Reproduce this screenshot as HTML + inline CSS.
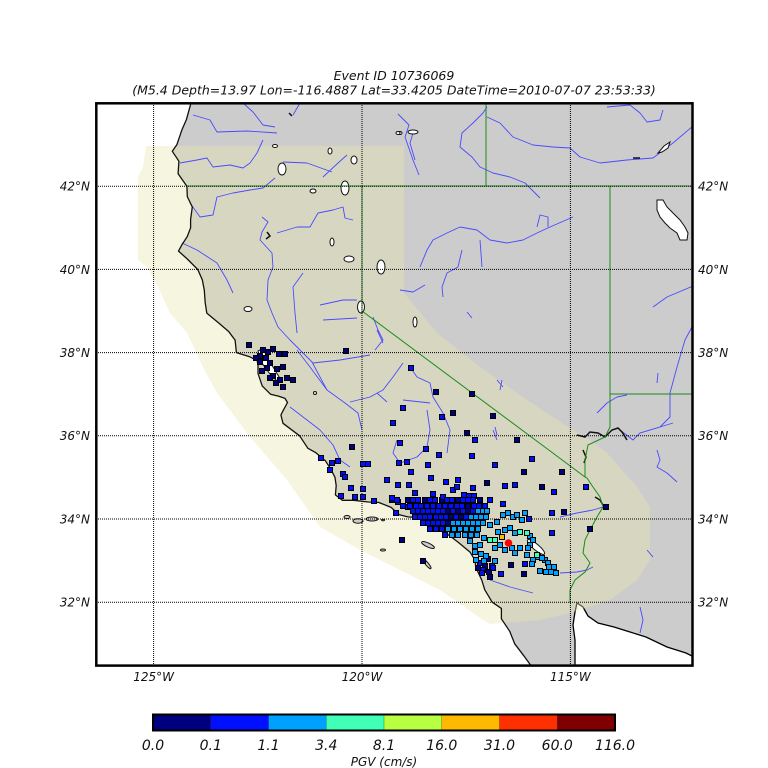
<!DOCTYPE html>
<html><head><meta charset="utf-8"><style>
html,body{margin:0;padding:0;background:#fff;}
svg{display:block;}
text{font-family:"DejaVu Sans","Liberation Sans",sans-serif;font-style:italic;fill:#111;}
</style></head><body>
<svg width="768" height="768" viewBox="0 0 768 768" xmlns="http://www.w3.org/2000/svg">
<defs>
<clipPath id="fr"><rect x="96" y="103" width="597" height="563"/></clipPath>
<rect id="s" x="-2.5" y="-2.5" width="5" height="5" stroke="#000" stroke-width="1"/>
</defs>
<rect width="768" height="768" fill="#fff"/>
<text x="394" y="80" font-size="12.5" text-anchor="middle">Event ID 10736069</text>
<text x="394" y="94.4" font-size="12.5" text-anchor="middle">(M5.4 Depth=13.97 Lon=-116.4887 Lat=33.4205 DateTime=2010-07-07 23:53:33)</text>
<g clip-path="url(#fr)">
<polygon fill="#cccccc" points="191,103 186.4,119.6 182,129.6 176.9,144.6 172.3,151.3 178.9,161.2 178.1,173.7 186.9,186.2 187.3,196.6 192.3,207 190.6,219.5 190.6,227.8 187.3,236.5 181.9,244.8 178.5,251.1 187.3,259 197.7,269.4 202.3,279.8 204.3,290.2 205.2,302.7 206.8,313.1 219.3,323.5 228.9,331.8 235.1,340.1 236.4,352.6 249.7,356.8 257.2,360.5 258,365.1 258,373.4 262.2,385.9 270.5,394.2 278.8,396.3 285,398.4 287.5,402.5 283,410.8 280.9,415 283,423.3 299.6,435.8 307.9,448.3 315.4,452.4 325.4,460.8 330.8,469.1 335,477.4 336.2,485.7 335.4,494.9 342.4,500.3 353.7,500.3 368.2,502 378.6,502.4 391.1,507.4 399.4,514.8 407.8,516.9 420.2,517.8 424.4,519 428.6,525.2 428.6,529.4 433.6,530.6 439,529.4 449.4,535.6 457.7,541.9 470.2,552.3 475.2,560.6 475.6,566.8 478.5,573.1 481.8,580.2 484.7,589.7 492.2,602.2 501.4,608.4 501.4,618.8 509.7,631.3 514.7,643.8 524.2,656.3 530.5,665 530.5,670 700,670 700,100 191,100"/>
<polygon fill="#fff" stroke="#000" stroke-width="1.3" points="575,670 575,640 573,625 575,612 577,603 583,607 588,616 598,623 614,627 630,632 646,637 667,647 686,653 696,658 696,670"/>
<polygon fill="rgb(232,232,178)" fill-opacity="0.4" points="146,146 404,146 404,293 437,333 480,367 527,400 565,425 590,440 607,453 637,487 650,507 650,560 637,580 610,600 570,613 540,620 490,624 480,618 440,590 400,570 360,550 320,527 287,480 250,437 217,393 203,367 187,333 170,313 158,287 147,267 138,260 138,177 143,167"/>
<g fill="none" stroke="#4a4aff" stroke-width="0.9" stroke-linejoin="round">
<polyline points="193,115 210,120 217,132 247,131 277,133"/>
<polyline points="243,103 253,112 263,125 275,127"/>
<polyline points="180,163 197,160 207,158 213,167 230,165 243,168 250,163 257,153 263,140"/>
<polyline points="283,162 307,163 332,172"/>
<polyline points="190,203 200,217 213,215 217,197 233,193 250,190 263,188 275,178"/>
<polyline points="182,243 197,250 217,263 227,280 233,293"/>
<polyline points="262,217 268,222 262,232 260,240 272,253 273,267 268,280 267,300 272,313 278,327 290,340 300,350 312,362 327,390 345,403 358,413 362,430"/>
<polyline points="277,233 297,227 310,227 318,213 333,210 343,207 345,218 353,220"/>
<polyline points="303,273 293,287 295,313 297,333"/>
<polyline points="320,305 343,300 357,300"/>
<polyline points="323,320 357,318"/>
<polyline points="323,177 338,163 347,155"/>
<polyline points="297,350 310,367 327,390"/>
<polyline points="313,363 340,360 370,355"/>
<polyline points="350,402 370,397 383,390 393,377 403,363"/>
<polyline points="377,393 387,402"/>
<polyline points="290,407 307,420 320,430 333,445 340,460 350,467"/>
<polyline points="397,440 393,453 400,463 417,457 427,447 430,430 427,410"/>
<polyline points="410,367 417,377 430,383 433,397 443,413 450,430 447,453"/>
<polyline points="403,400 430,403"/>
<polyline points="497,380 503,387"/>
<polyline points="493,430 497,440"/>
<polyline points="487,107 483,113 473,123 462,133 460,147 472,157 480,167 493,173 510,177 525,183 540,198"/>
<polyline points="487,117 500,123 513,137 533,145 553,147 570,148 580,157 600,163 627,160 653,158 673,143 693,126"/>
<polyline points="607,107 630,105 640,113 647,122 660,120 663,110"/>
<polyline points="413,133 410,143 415,160"/>
<polyline points="398,114 409,125 405,137 413,160 419,175"/>
<polyline points="300,103 293,115"/>
<polyline points="420,267 427,250 433,240 447,233 460,227 477,230 490,240 507,243 523,240 537,233 550,227 573,217"/>
<polyline points="537,227 540,215 548,217 548,227"/>
<polyline points="480,240 482,267"/>
<polyline points="462,250 458,267 447,273 442,287 443,297"/>
<polyline points="400,290 413,292 425,285"/>
<polyline points="467,312 472,318"/>
<polyline points="693,286 667,297 653,307"/>
<polyline points="693,325 685,340 677,367 670,393 670,417 660,427 640,433"/>
<polyline points="658,373 657,383"/>
<polyline points="597,413 607,403 617,397 627,395"/>
<polyline points="502,380 500,390"/>
<polyline points="560,517 577,513 593,510 603,507"/>
<polyline points="620,430 633,440 640,433 660,427 673,423"/>
<polyline points="657,450 660,460 657,467 667,473 677,482"/>
<polyline points="647,550 653,557"/>
<polyline points="640,607 643,620 640,633"/>
<polyline points="560,573 577,572 587,570 593,567"/>
<polyline points="490,580 510,587 533,593"/>
<polyline points="495,427 497,435"/>
<polyline points="373,317 378,330 383,340 375,350"/>
<polyline points="377,330 383,343"/>
</g>
<polyline fill="none" stroke="#111" stroke-width="1.3" stroke-linejoin="round" points="191,103 186.4,119.6 182,129.6 176.9,144.6 172.3,151.3 178.9,161.2 178.1,173.7 186.9,186.2 187.3,196.6 192.3,207 190.6,219.5 190.6,227.8 187.3,236.5 181.9,244.8 178.5,251.1 187.3,259 197.7,269.4 202.3,279.8 204.3,290.2 205.2,302.7 206.8,313.1 219.3,323.5 228.9,331.8 235.1,340.1 236.4,352.6 249.7,356.8 257.2,360.5 258,365.1 258,373.4 262.2,385.9 270.5,394.2 278.8,396.3 285,398.4 287.5,402.5 283,410.8 280.9,415 283,423.3 299.6,435.8 307.9,448.3 315.4,452.4 325.4,460.8 330.8,469.1 335,477.4 336.2,485.7 335.4,494.9 342.4,500.3 353.7,500.3 368.2,502 378.6,502.4 391.1,507.4 399.4,514.8 407.8,516.9 420.2,517.8 424.4,519 428.6,525.2 428.6,529.4 433.6,530.6 439,529.4 449.4,535.6 457.7,541.9 470.2,552.3 475.2,560.6 475.6,566.8 478.5,573.1 481.8,580.2 484.7,589.7 492.2,602.2 501.4,608.4 501.4,618.8 509.7,631.3 514.7,643.8 524.2,656.3 530.5,665"/>
<polygon fill="#fff" stroke="#111" stroke-width="1" points="258,351 264,348 268,352 266,357 270,362 276,372 281,380 278,382 270,374 264,366 260,360"/>
<g fill="#fff" stroke="#111" stroke-width="1">
<ellipse cx="275" cy="146" rx="2.5" ry="1.5"/>
<ellipse cx="330" cy="151" rx="2" ry="3"/>
<ellipse cx="354" cy="160" rx="3" ry="4"/>
<ellipse cx="282" cy="169" rx="4" ry="6"/>
<ellipse cx="345" cy="188" rx="4" ry="7"/>
<ellipse cx="313" cy="191" rx="3" ry="2"/>
<ellipse cx="332" cy="242" rx="2" ry="4"/>
<ellipse cx="349" cy="259" rx="5" ry="3"/>
<ellipse cx="381" cy="267" rx="4" ry="7"/>
<ellipse cx="248" cy="309" rx="4" ry="2.5"/>
<ellipse cx="361" cy="307" rx="3.5" ry="6"/>
<ellipse cx="415" cy="322" rx="2" ry="5"/>
<ellipse cx="315" cy="393" rx="1.5" ry="1.5"/>
<ellipse cx="413" cy="132" rx="5" ry="2"/>
<ellipse cx="400" cy="133" rx="2" ry="1.5"/>
<ellipse cx="398" cy="133" rx="2" ry="1.5"/>
<ellipse cx="536" cy="547" rx="11" ry="3" transform="rotate(40 536 547)"/>
<polygon points="657,200 663,200 667,207 673,213 680,220 685,227 688,233 687,240 680,240 677,233 670,228 665,223 660,217 657,210"/>
<polygon points="658,153 664,146 670,142 668,148 662,152"/>
</g>
<g fill="none" stroke="#111" stroke-width="1.5">
<polyline points="267,232 270,236 266,239"/>
<polyline points="577,435 585,437 590,432 598,433 605,437 612,430 618,428 622,432 627,440"/>
<polyline points="583,450 586,457 584,463"/>
<polyline points="595,497 600,500 603,505 607,508"/>
<polyline points="633,158 640,158"/>
<polyline points="289,113 292,116"/>
</g>
<g fill="#cccccc" stroke="#111" stroke-width="1">
<ellipse cx="347" cy="517" rx="3" ry="1.5"/>
<ellipse cx="358" cy="521" rx="5" ry="2.2"/>
<ellipse cx="372" cy="519" rx="6" ry="2"/>
<ellipse cx="383" cy="520" rx="1.5" ry="0.8"/>
<ellipse cx="428" cy="545" rx="7" ry="2" transform="rotate(25 428 545)"/>
<ellipse cx="427" cy="564" rx="6" ry="1.5" transform="rotate(50 427 564)"/>
<ellipse cx="383" cy="550" rx="2.5" ry="1"/>
</g>
<g fill="none" stroke="#1a8c1a" stroke-width="1">
<polyline points="187,186 700,186"/>
<polyline points="486,100 486,186"/>
<polyline points="362,186 362,311 585,477"/>
<polyline points="610,186 610,427 605,437 588,445 585,460 585,477 587,478 593,487 600,497 603,507 597,517 590,530 585,540 583,553 590,563 585,572 575,580 570,590 570,603"/>
<polyline points="610,394 700,394"/>
</g>
<g stroke="#000" stroke-width="1" stroke-dasharray="1,1" fill="none">
<line x1="153.6" y1="103" x2="153.6" y2="666"/>
<line x1="362" y1="103" x2="362" y2="666"/>
<line x1="570.4" y1="103" x2="570.4" y2="666"/>
<line x1="96" y1="186.2" x2="693" y2="186.2"/>
<line x1="96" y1="269.4" x2="693" y2="269.4"/>
<line x1="96" y1="352.6" x2="693" y2="352.6"/>
<line x1="96" y1="435.8" x2="693" y2="435.8"/>
<line x1="96" y1="519" x2="693" y2="519"/>
<line x1="96" y1="602.2" x2="693" y2="602.2"/>
</g>
<g fill="#00007f">
<use href="#s" x="249" y="345"/><use href="#s" x="263" y="350"/><use href="#s" x="273" y="349"/><use href="#s" x="279" y="354"/><use href="#s" x="285" y="354"/><use href="#s" x="260" y="356"/><use href="#s" x="266" y="358"/><use href="#s" x="270" y="363"/><use href="#s" x="260" y="362"/><use href="#s" x="267" y="368"/><use href="#s" x="277" y="369"/><use href="#s" x="283" y="367"/><use href="#s" x="262" y="371"/><use href="#s" x="273" y="376"/><use href="#s" x="280" y="380"/><use href="#s" x="287" y="378"/><use href="#s" x="293" y="380"/><use href="#s" x="283" y="387"/><use href="#s" x="276" y="383"/><use href="#s" x="270" y="378"/><use href="#s" x="256" y="358"/><use href="#s" x="268" y="352"/>
<use href="#s" x="346" y="351"/><use href="#s" x="472" y="394"/><use href="#s" x="453" y="413"/><use href="#s" x="436" y="392"/><use href="#s" x="493" y="416"/><use href="#s" x="517" y="440"/><use href="#s" x="524" y="472"/><use href="#s" x="467" y="433"/><use href="#s" x="487" y="483"/><use href="#s" x="542" y="487"/><use href="#s" x="562" y="472"/><use href="#s" x="352" y="447"/><use href="#s" x="402" y="540"/><use href="#s" x="423" y="561"/><use href="#s" x="606" y="507"/><use href="#s" x="590" y="529"/><use href="#s" x="564" y="512"/>
<use href="#s" x="392" y="500"/><use href="#s" x="408" y="500"/><use href="#s" x="425" y="500"/><use href="#s" x="442" y="500"/><use href="#s" x="458" y="500"/><use href="#s" x="480" y="500"/><use href="#s" x="468" y="506"/><use href="#s" x="448" y="511"/><use href="#s" x="458" y="511"/><use href="#s" x="468" y="511"/><use href="#s" x="451" y="517"/><use href="#s" x="461" y="517"/><use href="#s" x="448" y="523"/>
<use href="#s" x="488" y="559"/><use href="#s" x="485" y="566"/><use href="#s" x="478" y="568"/><use href="#s" x="489" y="572"/><use href="#s" x="490" y="577"/><use href="#s" x="524" y="574"/><use href="#s" x="511" y="565"/>
</g>
<g fill="#0010ff">
<use href="#s" x="411" y="368"/><use href="#s" x="403" y="408"/><use href="#s" x="442" y="417"/><use href="#s" x="393" y="423"/><use href="#s" x="475" y="440"/><use href="#s" x="400" y="443"/><use href="#s" x="426" y="449"/><use href="#s" x="439" y="455"/><use href="#s" x="472" y="456"/><use href="#s" x="532" y="459"/><use href="#s" x="399" y="463"/><use href="#s" x="407" y="462"/><use href="#s" x="428" y="465"/><use href="#s" x="495" y="465"/><use href="#s" x="321" y="458"/><use href="#s" x="332" y="463"/><use href="#s" x="338" y="461"/><use href="#s" x="330" y="470"/><use href="#s" x="343" y="474"/><use href="#s" x="345" y="477"/><use href="#s" x="363" y="464"/><use href="#s" x="368" y="464"/><use href="#s" x="411" y="472"/><use href="#s" x="431" y="478"/><use href="#s" x="458" y="480"/><use href="#s" x="387" y="480"/><use href="#s" x="398" y="485"/><use href="#s" x="409" y="485"/><use href="#s" x="446" y="482"/><use href="#s" x="505" y="486"/><use href="#s" x="515" y="485"/><use href="#s" x="473" y="488"/><use href="#s" x="351" y="488"/><use href="#s" x="363" y="489"/><use href="#s" x="415" y="493"/><use href="#s" x="433" y="494"/><use href="#s" x="453" y="490"/><use href="#s" x="443" y="497"/><use href="#s" x="464" y="495"/><use href="#s" x="341" y="496"/><use href="#s" x="355" y="497"/><use href="#s" x="363" y="497"/><use href="#s" x="374" y="501"/><use href="#s" x="392" y="498"/><use href="#s" x="398" y="502"/><use href="#s" x="396" y="513"/><use href="#s" x="408" y="507"/><use href="#s" x="469" y="496"/><use href="#s" x="474" y="496"/><use href="#s" x="503" y="504"/><use href="#s" x="554" y="492"/><use href="#s" x="586" y="487"/><use href="#s" x="529" y="519"/><use href="#s" x="552" y="533"/><use href="#s" x="552" y="513"/><use href="#s" x="525" y="564"/><use href="#s" x="501" y="574"/><use href="#s" x="457" y="487"/>
<use href="#s" x="397" y="500"/><use href="#s" x="413" y="500"/><use href="#s" x="418" y="500"/><use href="#s" x="430" y="500"/><use href="#s" x="435" y="500"/><use href="#s" x="447" y="500"/><use href="#s" x="452" y="500"/><use href="#s" x="463" y="500"/><use href="#s" x="468" y="500"/><use href="#s" x="473" y="500"/><use href="#s" x="490" y="500"/>
<use href="#s" x="403" y="506"/><use href="#s" x="410" y="506"/><use href="#s" x="416" y="506"/><use href="#s" x="421" y="506"/><use href="#s" x="427" y="506"/><use href="#s" x="433" y="506"/><use href="#s" x="439" y="506"/><use href="#s" x="445" y="506"/><use href="#s" x="451" y="506"/><use href="#s" x="457" y="506"/><use href="#s" x="462" y="506"/><use href="#s" x="474" y="506"/><use href="#s" x="479" y="506"/><use href="#s" x="485" y="506"/>
<use href="#s" x="413" y="511"/><use href="#s" x="418" y="511"/><use href="#s" x="423" y="511"/><use href="#s" x="428" y="511"/><use href="#s" x="433" y="511"/><use href="#s" x="438" y="511"/><use href="#s" x="443" y="511"/><use href="#s" x="453" y="511"/><use href="#s" x="463" y="511"/><use href="#s" x="473" y="511"/>
<use href="#s" x="415" y="517"/><use href="#s" x="420" y="517"/><use href="#s" x="425" y="517"/><use href="#s" x="430" y="517"/><use href="#s" x="436" y="517"/><use href="#s" x="441" y="517"/><use href="#s" x="446" y="517"/><use href="#s" x="456" y="517"/><use href="#s" x="466" y="517"/>
<use href="#s" x="423" y="523"/><use href="#s" x="428" y="523"/><use href="#s" x="433" y="523"/><use href="#s" x="438" y="523"/><use href="#s" x="443" y="523"/>
<use href="#s" x="430" y="529"/><use href="#s" x="436" y="529"/><use href="#s" x="442" y="529"/><use href="#s" x="445" y="535"/>
<use href="#s" x="480" y="563"/><use href="#s" x="492" y="566"/><use href="#s" x="483" y="570"/><use href="#s" x="482" y="573"/><use href="#s" x="493" y="568"/>
</g>
<g fill="#00a0ff">
<use href="#s" x="478" y="511"/><use href="#s" x="483" y="511"/><use href="#s" x="487" y="511"/><use href="#s" x="471" y="517"/><use href="#s" x="476" y="517"/><use href="#s" x="481" y="517"/><use href="#s" x="486" y="517"/>
<use href="#s" x="453" y="523"/><use href="#s" x="458" y="523"/><use href="#s" x="463" y="523"/><use href="#s" x="468" y="523"/><use href="#s" x="473" y="523"/><use href="#s" x="478" y="523"/><use href="#s" x="483" y="523"/>
<use href="#s" x="448" y="529"/><use href="#s" x="454" y="529"/><use href="#s" x="460" y="529"/><use href="#s" x="466" y="529"/><use href="#s" x="472" y="529"/><use href="#s" x="478" y="529"/>
<use href="#s" x="452" y="535"/><use href="#s" x="458" y="535"/><use href="#s" x="465" y="535"/><use href="#s" x="471" y="535"/><use href="#s" x="477" y="535"/>
<use href="#s" x="490" y="525"/><use href="#s" x="497" y="522"/><use href="#s" x="503" y="515"/><use href="#s" x="508" y="513"/><use href="#s" x="513" y="517"/><use href="#s" x="517" y="515"/><use href="#s" x="522" y="520"/><use href="#s" x="525" y="513"/><use href="#s" x="498" y="532"/><use href="#s" x="505" y="530"/><use href="#s" x="510" y="528"/><use href="#s" x="515" y="533"/><use href="#s" x="530" y="536"/><use href="#s" x="533" y="540"/>
<use href="#s" x="512" y="548"/><use href="#s" x="515" y="553"/><use href="#s" x="520" y="548"/><use href="#s" x="527" y="555"/><use href="#s" x="533" y="560"/><use href="#s" x="538" y="557"/><use href="#s" x="545" y="560"/><use href="#s" x="548" y="563"/><use href="#s" x="530" y="545"/><use href="#s" x="540" y="571"/><use href="#s" x="546" y="572"/><use href="#s" x="551" y="572"/><use href="#s" x="554" y="567"/><use href="#s" x="556" y="573"/><use href="#s" x="549" y="567"/><use href="#s" x="542" y="558"/><use href="#s" x="528" y="548"/><use href="#s" x="532" y="564"/><use href="#s" x="500" y="545"/><use href="#s" x="505" y="550"/><use href="#s" x="495" y="548"/><use href="#s" x="480" y="545"/><use href="#s" x="484" y="538"/><use href="#s" x="470" y="541"/><use href="#s" x="475" y="546"/>
<use href="#s" x="475" y="552"/><use href="#s" x="481" y="554"/><use href="#s" x="486" y="556"/><use href="#s" x="476" y="560"/><use href="#s" x="484" y="561"/><use href="#s" x="495" y="561"/>
</g>
<g fill="#40ffb7">
<use href="#s" x="490" y="540"/><use href="#s" x="495" y="540"/><use href="#s" x="520" y="532"/><use href="#s" x="527" y="533"/><use href="#s" x="537" y="555"/>
</g>
<g fill="#ffb900"><use href="#s" x="502" y="537"/></g>
<circle cx="508.5" cy="543" r="3.8" fill="#ff0000"/>
</g>
<rect x="96.3" y="103.3" width="596.2" height="562.3" fill="none" stroke="#000" stroke-width="2.5"/>
<g font-size="12">
<text x="90" y="190.6" text-anchor="end">42°N</text>
<text x="90" y="273.8" text-anchor="end">40°N</text>
<text x="90" y="357" text-anchor="end">38°N</text>
<text x="90" y="440.2" text-anchor="end">36°N</text>
<text x="90" y="523.4" text-anchor="end">34°N</text>
<text x="90" y="606.6" text-anchor="end">32°N</text>
<text x="698" y="190.6">42°N</text>
<text x="698" y="273.8">40°N</text>
<text x="698" y="357">38°N</text>
<text x="698" y="440.2">36°N</text>
<text x="698" y="523.4">34°N</text>
<text x="698" y="606.6">32°N</text>
<text x="153.6" y="681" text-anchor="middle">125°W</text>
<text x="362" y="681" text-anchor="middle">120°W</text>
<text x="570.4" y="681" text-anchor="middle">115°W</text>
</g>
<g>
<rect x="153" y="714.5" width="57.75" height="16" fill="#00007f"/>
<rect x="210.75" y="714.5" width="57.75" height="16" fill="#0010ff"/>
<rect x="268.5" y="714.5" width="57.75" height="16" fill="#00a0ff"/>
<rect x="326.25" y="714.5" width="57.75" height="16" fill="#40ffb7"/>
<rect x="384" y="714.5" width="57.75" height="16" fill="#b7ff40"/>
<rect x="441.75" y="714.5" width="57.75" height="16" fill="#ffb900"/>
<rect x="499.5" y="714.5" width="57.75" height="16" fill="#ff3000"/>
<rect x="557.25" y="714.5" width="57.75" height="16" fill="#7f0000"/>
<g stroke="#000" stroke-width="0.5" stroke-opacity="0.5">
<line x1="210.75" y1="714.5" x2="210.75" y2="730.5"/><line x1="268.5" y1="714.5" x2="268.5" y2="730.5"/><line x1="326.25" y1="714.5" x2="326.25" y2="730.5"/><line x1="384" y1="714.5" x2="384" y2="730.5"/><line x1="441.75" y1="714.5" x2="441.75" y2="730.5"/><line x1="499.5" y1="714.5" x2="499.5" y2="730.5"/><line x1="557.25" y1="714.5" x2="557.25" y2="730.5"/>
</g>
<rect x="153" y="714.5" width="462" height="16" fill="none" stroke="#000" stroke-width="2"/>
</g>
<g font-size="14" text-anchor="middle">
<text x="153" y="750">0.0</text>
<text x="210.75" y="750">0.1</text>
<text x="268.5" y="750">1.1</text>
<text x="326.25" y="750">3.4</text>
<text x="384" y="750">8.1</text>
<text x="441.75" y="750">16.0</text>
<text x="499.5" y="750">31.0</text>
<text x="557.25" y="750">60.0</text>
<text x="615" y="750">116.0</text>
</g>
<text x="384" y="766" font-size="12" text-anchor="middle">PGV (cm/s)</text>
</svg>
</body></html>
